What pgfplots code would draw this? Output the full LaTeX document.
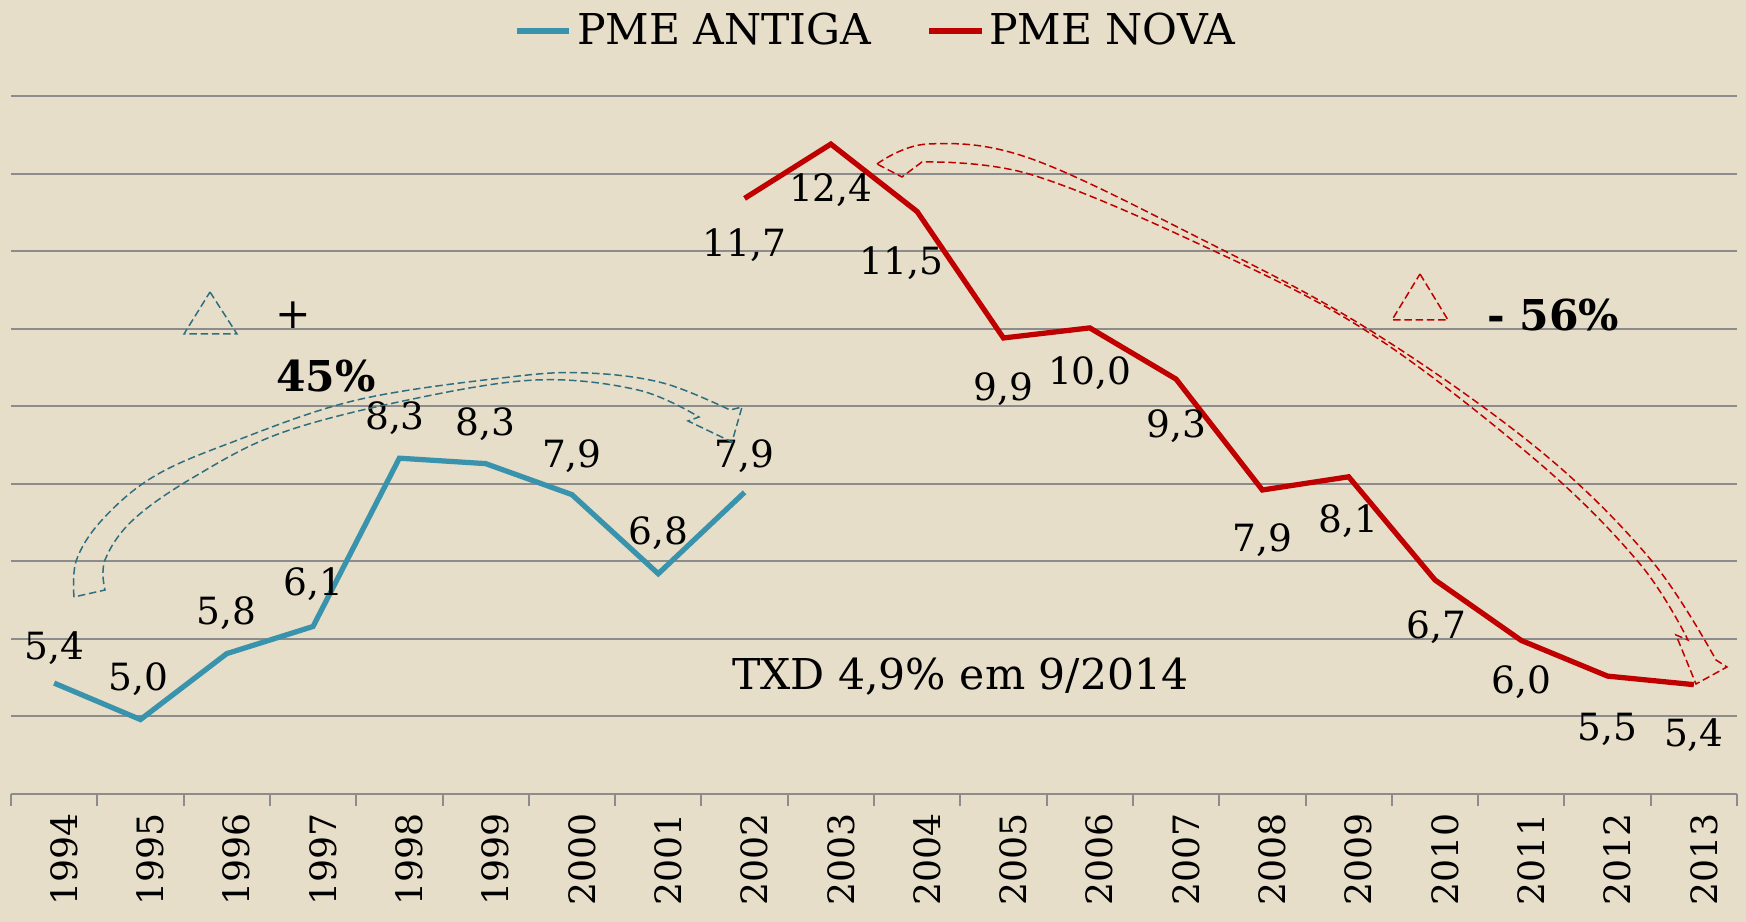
\documentclass[border=0pt]{standalone}
\usepackage{fontspec}
\setmainfont{DejaVu Serif}
\usepackage{pgfplots}
\pgfplotsset{compat=1.18}
\definecolor{bg}{RGB}{230,222,200}
\definecolor{antiga}{RGB}{58,147,172}
\definecolor{nova}{RGB}{192,0,0}
\definecolor{gridg}{RGB}{140,140,140}
\definecolor{tealdark}{RGB}{47,110,128}
\newcommand{\lab}{\fontsize{15}{18}\selectfont}
\begin{document}
\begin{tikzpicture}
\fill[bg] (-4.4pt,-51.2pt) rectangle (694pt,317.6pt);
\begin{axis}[
    at={(0,0)}, anchor=south west,
    scale only axis,
    width=690.4pt, height=279.2pt,
    xmin=-0.5, xmax=19.5,
    ymin=4, ymax=13,
    axis x line*=bottom,
    axis y line*=left,
    x axis line style={draw=gridg, line width=0.8pt, -},
    y axis line style={draw=none},
    xtick={0,...,19},
    xticklabels={1994,1995,1996,1997,1998,1999,2000,2001,2002,2003,2004,2005,2006,2007,2008,2009,2010,2011,2012,2013},
    xticklabel style={rotate=90, anchor=east, font=\fontsize{14.5}{17}\selectfont, yshift=-4pt},
    major x tick style={draw=none},
    minor xtick={-0.5,0.5,...,19.5},
    minor x tick style={draw=gridg, line width=0.8pt},
    minor tick length=5pt,
    tick align=outside,
    ytick={5,...,13},
    yticklabels={},
    y tick style={draw=none},
    ymajorgrids,
    grid style={draw=gridg, line width=0.8pt},
    clip=false,
    legend columns=2,
    legend style={at={(0.502,1.093)}, anchor=center, draw=none, fill=none,
        font=\fontsize{17}{20}\selectfont,
        /tikz/every even column/.append style={column sep=20pt}},
    legend image code/.code={\draw[#1] (0pt,0pt) -- (21pt,0pt);},
]
\addplot[antiga, line width=2.1pt] coordinates {
    (0,5.43) (1,4.96) (2,5.81) (3,6.16) (4,8.33) (5,8.26) (6,7.86) (7,6.84) (8,7.89)
};
\addlegendentry{PME ANTIGA}
\addplot[nova, line width=2.1pt] coordinates {
    (8,11.68) (9,12.38) (10,11.51) (11,9.88) (12,10.01) (13,9.35) (14,7.92)
    (15,8.09) (16,6.76) (17,5.98) (18,5.52) (19,5.41)
};
\addlegendentry{PME NOVA}
% value labels
\node[font=\lab] at (axis cs:0,5.88) {5,4};
\node[font=\lab] at (axis cs:0.98,5.48) {5,0};
\node[font=\lab] at (axis cs:2,6.33) {5,8};
\node[font=\lab] at (axis cs:3,6.70) {6,1};
\node[font=\lab] at (axis cs:3.95,8.84) {8,3};
\node[font=\lab] at (axis cs:5,8.77) {8,3};
\node[font=\lab] at (axis cs:6,8.35) {7,9};
\node[font=\lab] at (axis cs:7,7.37) {6,8};
\node[font=\lab] at (axis cs:8,8.35) {7,9};
\node[font=\lab] at (axis cs:8,11.08) {11,7};
\node[font=\lab] at (axis cs:9,11.79) {12,4};
\node[font=\lab] at (axis cs:9.82,10.85) {11,5};
\node[font=\lab] at (axis cs:11,9.22) {9,9};
\node[font=\lab] at (axis cs:12,9.43) {10,0};
\node[font=\lab] at (axis cs:13,8.74) {9,3};
\node[font=\lab] at (axis cs:14,7.27) {7,9};
\node[font=\lab] at (axis cs:15,7.52) {8,1};
\node[font=\lab] at (axis cs:16.02,6.15) {6,7};
\node[font=\lab] at (axis cs:17,5.44) {6,0};
\node[font=\lab] at (axis cs:18,4.83) {5,5};
\node[font=\lab] at (axis cs:19,4.76) {5,4};
\node[font=\fontsize{17}{20}\selectfont] at (axis cs:10.5,5.51) {TXD 4,9\% em 9/2014};
\end{axis}
% annotations, in pixel coordinates of the picture
\begin{scope}[x=0.4pt, y=-0.4pt, shift={(-4.4pt,317.6pt)}]
\draw[tealdark, line width=0.6pt, dash pattern=on 3pt off 1.5pt]
    plot[smooth, tension=0.6] coordinates {(74,597) (76.5,560) (102,520) (153,477) (230,443) (357,400) (510,377) (587,373) (663,383) (730,410)}
    -- (742,407) -- (732,442) -- (688,421) --
    plot[smooth, tension=0.6] coordinates {(699,417) (638,390) (536,380) (408,400) (281,433) (194,477) (133,520) (105,560) (105,590)}
    -- cycle;
\draw[tealdark, line width=0.6pt, dash pattern=on 3pt off 1.5pt] (210,292) -- (237,334) -- (184,334) -- cycle;
\draw[nova, line width=0.6pt, dash pattern=on 3pt off 1.5pt]
    plot[smooth, tension=0.6] coordinates {(877,164) (928,144) (1029,158) (1199,238) (1368,329) (1538,449) (1651,560) (1716,660)}
    -- (1727,667) -- (1696,684) -- (1676,635) --
    plot[smooth, tension=0.6] coordinates {(1688,640) (1640,564) (1538,462) (1368,332) (1199,244) (1029,174) (922,162)}
    -- (902,177) -- cycle;
\draw[nova, line width=0.6pt, dash pattern=on 3pt off 1.5pt] (1420,274) -- (1448,320) -- (1392,320) -- cycle;
\node[font=\fontsize{17}{20}\selectfont] at (293,315) {+};
\node[font=\fontsize{17}{20}\selectfont\bfseries] at (326,376) {45\%};
\node[font=\fontsize{17}{20}\selectfont\bfseries] at (1553,315) {- 56\%};
\end{scope}
\pgfresetboundingbox
\path[use as bounding box] (-4.4pt,-51.2pt) rectangle (694pt,317.6pt);
\end{tikzpicture}
\end{document}
